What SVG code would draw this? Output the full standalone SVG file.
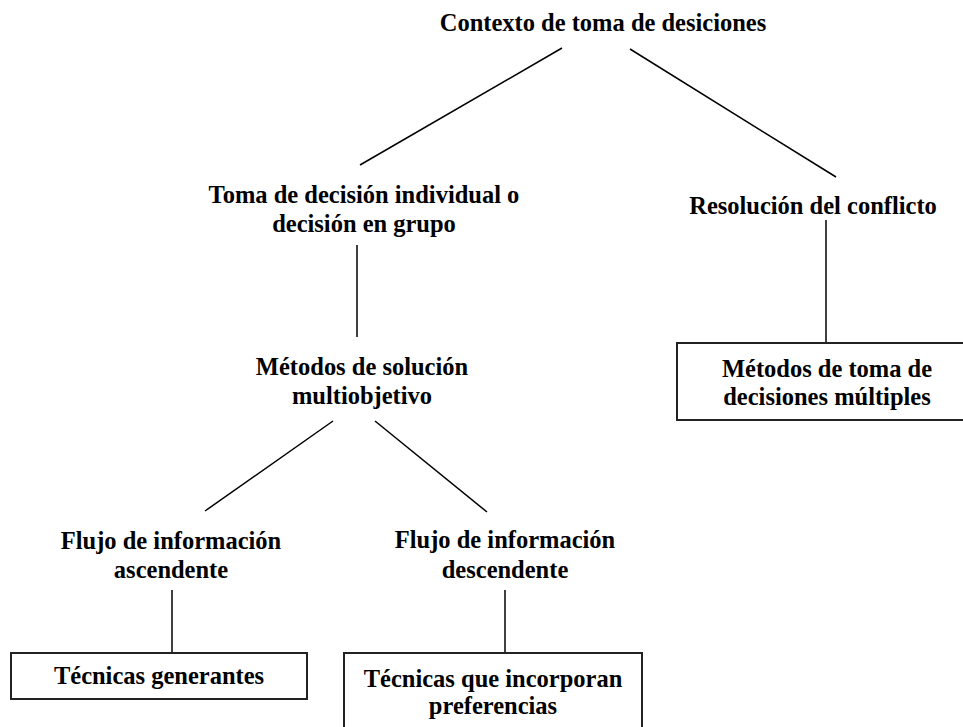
<svg xmlns="http://www.w3.org/2000/svg" width="963" height="727" viewBox="0 0 963 727">
<style>
text{font-family:"Liberation Serif","Times New Roman",serif;font-weight:bold;font-size:24.5px;fill:#000;text-anchor:middle}
.box{fill:#fff;stroke:#222;stroke-width:2}
.conn line{stroke:#000;stroke-width:1.5}
</style>
<rect width="963" height="727" fill="#fff"/>
<g class="conn" id="connectors">
<line x1="562" y1="48" x2="360" y2="165"/>
<line x1="630" y1="49" x2="836" y2="177"/>
<line x1="357" y1="245" x2="357" y2="337"/>
<line x1="333" y1="421" x2="205" y2="511"/>
<line x1="375" y1="421" x2="487" y2="512"/>
<line x1="172" y1="590" x2="172" y2="653"/>
<line x1="505" y1="590" x2="505" y2="653"/>
<line x1="826" y1="220" x2="826" y2="343"/>
</g>
<g id="n-contexto"><text transform="translate(603 31) scale(1 1.05)">Contexto de toma de desiciones</text></g>
<g id="n-toma"><text transform="translate(364 203) scale(1 1.05)">Toma de decisión individual o</text><text transform="translate(364 232) scale(1 1.05)">decisión en grupo</text></g>
<g id="n-resolucion"><text transform="translate(813 214) scale(1 1.05)">Resolución del conflicto</text></g>
<g id="n-metodos-sol"><text transform="translate(362 375) scale(1 1.05)">Métodos de solución</text><text transform="translate(362 404) scale(1 1.05)">multiobjetivo</text></g>
<g id="n-metodos-toma"><rect class="box" x="677" y="343" width="298" height="77"/><text transform="translate(827 377) scale(1 1.05)">Métodos de toma de</text><text transform="translate(827 405) scale(1 1.05)">decisiones múltiples</text></g>
<g id="n-flujo-asc"><text transform="translate(171 549) scale(1 1.05)">Flujo de información</text><text transform="translate(171 578) scale(1 1.05)">ascendente</text></g>
<g id="n-flujo-desc"><text transform="translate(505 548) scale(1 1.05)">Flujo de información</text><text transform="translate(505 578) scale(1 1.05)">descendente</text></g>
<g id="n-tec-gen"><rect class="box" x="11" y="653" width="296" height="46"/><text transform="translate(159 684) scale(1 1.05)">Técnicas generantes</text></g>
<g id="n-tec-pref"><rect class="box" x="344" y="653" width="298" height="90"/><text transform="translate(493 687) scale(1 1.05)">Técnicas que incorporan</text><text transform="translate(493 714) scale(1 1.05)">preferencias</text></g>
</svg>
